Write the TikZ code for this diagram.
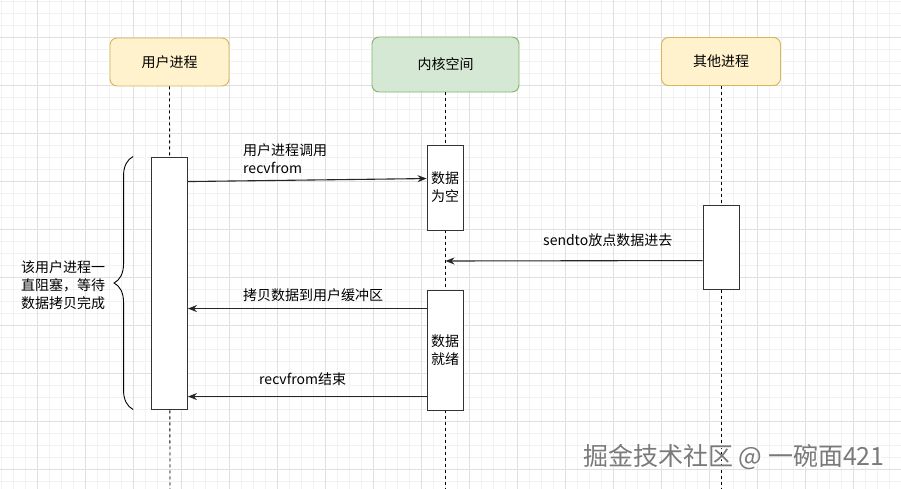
\documentclass[tikz,border=0pt]{standalone}
\usepackage{fontspec}
\setmainfont{Noto Sans CJK SC}
\newfontfamily\cjk{Noto Sans CJK SC}
\usetikzlibrary{arrows.meta,decorations.pathreplacing,calc}
\definecolor{yfill}{HTML}{FFF2CC}
\definecolor{ydraw}{HTML}{D6B656}
\definecolor{gfill}{HTML}{D5E8D4}
\definecolor{gdraw}{HTML}{82B366}
\definecolor{majgrid}{HTML}{E0E0E0}
\definecolor{mingrid}{HTML}{F2F2F2}
\definecolor{wmark}{HTML}{7A7A7A}
\begin{document}
\begin{tikzpicture}[x=1pt,y=-1pt,
  every node/.style={font=\fontsize{14}{18}\selectfont\cjk, text=black},
  ybox/.style={draw=ydraw, fill=yfill, rounded corners=7pt, line width=0.9pt, minimum width=119pt, minimum height=48pt, inner sep=0pt},
  gbox/.style={draw=gdraw, fill=gfill, rounded corners=7pt, line width=0.9pt, minimum width=147pt, minimum height=55pt, inner sep=0pt},
  actbox/.style={draw=black!80, fill=white, line width=0.9pt, minimum width=36pt, inner sep=0pt, align=center},
  life/.style={dashed, line width=0.9pt, dash pattern=on 3pt off 3pt},
  msg/.style={-{Stealth[length=9pt,width=7pt]}, line width=1.1pt, black!85},
  lbl/.style={align=left, anchor=west, inner sep=0pt}
]
\useasboundingbox (0,0) rectangle (901,489);
\fill[white] (0,0) rectangle (901,489);
% grid
\foreach \k in {0,...,75} {
  \draw[mingrid, line width=0.6pt] ({1+12*\k},0) -- ({1+12*\k},489);
}
\foreach \k in {0,...,40} {
  \draw[mingrid, line width=0.6pt] (0,{1+12*\k}) -- (901,{1+12*\k});
}
\foreach \k in {0,...,18} {
  \draw[majgrid, line width=0.8pt] ({37+48*\k},0) -- ({37+48*\k},489);
}
\foreach \k in {0,...,9} {
  \draw[majgrid, line width=0.8pt] (0,{37+48*\k}) -- (901,{37+48*\k});
}

% headers
\node[ybox] (up) at (169.5,62) {用户进程};
\node[gbox] (ks) at (445.5,64.5) {内核空间};
\node[ybox] (op) at (721,61.5) {其他进程};

% lifeline end coordinates
\coordinate (upend) at (170,489);
\coordinate (ksend) at (445.5,489);
\coordinate (opend) at (721,489);
\draw[life] (up.south) -- (upend);
\draw[life] (ks.south) -- (ksend);
\draw[life] (op.south) -- (opend);

% activations
\node[actbox, minimum height=252pt] (a1) at (169.5,283) {};
\node[actbox, minimum height=85pt] (k1) at (445,187.5) {数据\\为空};
\node[actbox, minimum height=120pt] (k2) at (445,350) {数据\\就绪};
\node[actbox, minimum height=84pt] (o1) at (721,247) {};

% messages
\draw[msg] ($(a1.north east)+(0,25)$) -- ($(k1.north west)+(0,34)$);
\node[lbl] (l1) at (243,159) {用户进程调用\\recvfrom};
\coordinate (k1life) at (445.5,261);
\draw[msg] ($(o1.north west)+(0,56)$) -- (k1life);
\node[lbl] (l2) at (543,240) {sendto放点数据进去};
\draw[msg] ($(k2.north west)+(0,19)$) -- ($(a1.north east)+(0,152)$);
\node[lbl] (l3) at (243,295) {拷贝数据到用户缓冲区};
\draw[msg] ($(k2.north west)+(0,107)$) -- ($(a1.north east)+(0,240)$);
\node[lbl] (l4) at (259,379) {recvfrom结束};

% brace
\draw[line width=0.9pt, decorate, decoration={brace, amplitude=19pt, aspect=0.5}]
  ($(a1.south west)+(-18,0)$) -- ($(a1.north west)+(-18,0)$);
\node[lbl, anchor=west] (bl) at (21,285) {该用户进程一\\直阻塞，等待\\数据拷贝完成};

% watermark
\node[anchor=west, inner sep=0pt, font=\fontsize{25}{28}\selectfont\cjk, text=white] at (584.5,458.5) {掘金技术社区 @ 一碗面421};
\node[anchor=west, inner sep=0pt, font=\fontsize{25}{28}\selectfont\cjk, text=wmark] (wm) at (583,457) {掘金技术社区 @ 一碗面421};
\end{tikzpicture}
\end{document}
